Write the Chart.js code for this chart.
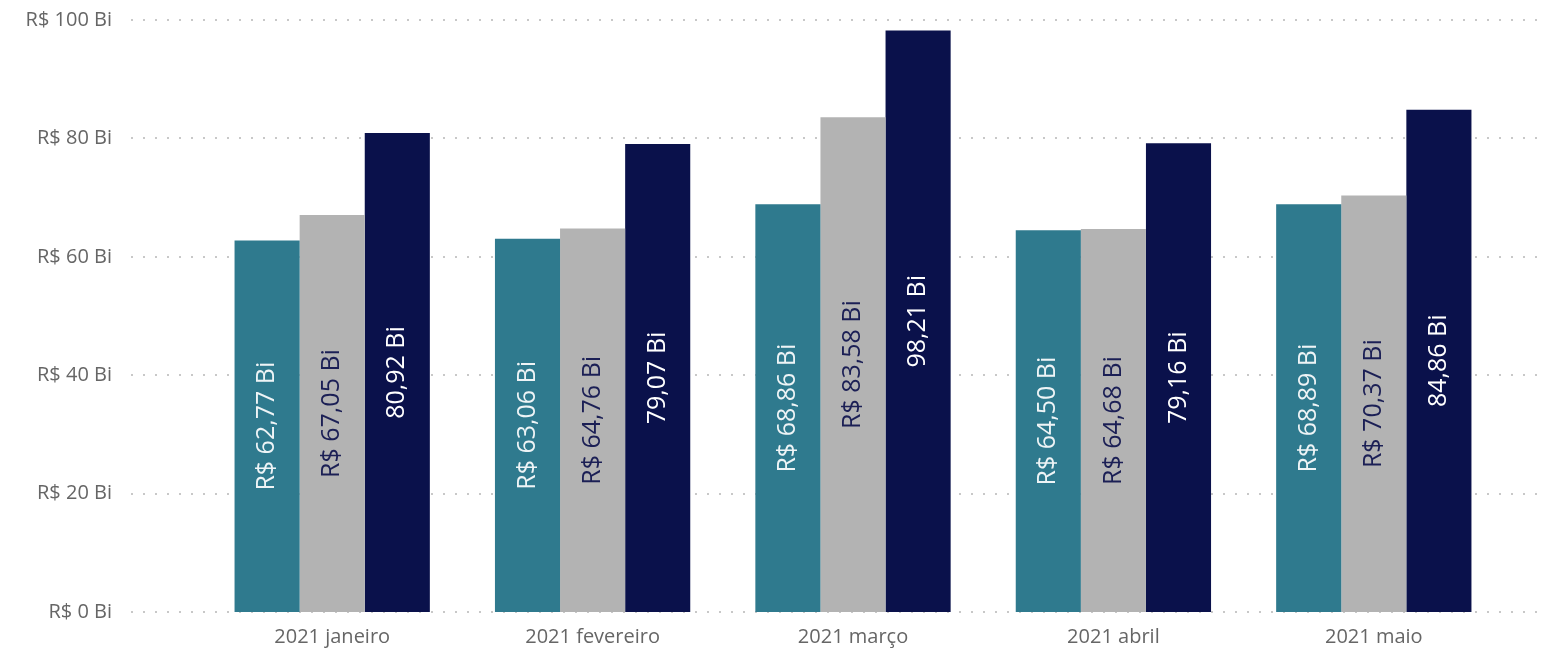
<!DOCTYPE html>
<html>
<head>
<meta charset="utf-8">
<script src="https://cdn.jsdelivr.net/npm/chart.js@4"></script>
<style>
  html, body { margin: 0; padding: 0; background: #fff; overflow: hidden; }
  #wrap { position: relative; width: 1546px; height: 649px; }
</style>
</head>
<body>
<div id="wrap"><canvas id="c"></canvas></div>
<script>
const months = ["2021 janeiro", "2021 fevereiro", "2021 março", "2021 abril", "2021 maio"];
const serieA = [62.77, 63.06, 68.86, 64.5, 68.89];
const serieB = [67.05, 64.76, 83.58, 64.68, 70.37];
const serieC = [80.92, 79.07, 98.21, 79.16, 84.86];
const yTicks = [0, 20, 40, 60, 80, 100];

const FONT = "'Open Sans', 'Noto Sans', sans-serif";

const fmt = (v) => v.toFixed(2).replace(".", ",");

// dotted gridlines that run wider than the category area
const dottedGrid = {
  id: "dottedGrid",
  beforeDatasetsDraw(chart) {
    const { ctx, scales: { y } } = chart;
    ctx.save();
    ctx.strokeStyle = "#c8c8c8";
    ctx.lineWidth = 2;
    ctx.setLineDash([2, 10]);
    yTicks.forEach((t) => {
      const py = Math.round(y.getPixelForValue(t));
      ctx.beginPath();
      ctx.moveTo(131, py);
      ctx.lineTo(1542, py);
      ctx.stroke();
    });
    ctx.restore();
  },
};

// rotated value labels centered in each bar
const barLabels = {
  id: "barLabels",
  afterDatasetsDraw(chart) {
    const { ctx } = chart;
    ctx.save();
    ctx.font = "25px " + FONT;
    ctx.textAlign = "center";
    ctx.textBaseline = "middle";
    chart.data.datasets.forEach((ds, i) => {
      chart.getDatasetMeta(i).data.forEach((bar, j) => {
        const cy = (bar.y + bar.base) / 2;
        ctx.save();
        ctx.translate(bar.x, cy);
        ctx.rotate(-Math.PI / 2);
        ctx.fillStyle = ds.labelColor;
        ctx.fillText(ds.prefix + fmt(ds.data[j]) + " Bi", 0, 0);
        ctx.restore();
      });
    });
    ctx.restore();
  },
};

new Chart(document.getElementById("c").getContext("2d"), {
  type: "bar",
  data: {
    labels: months,
    datasets: [
      { label: "A", data: serieA, backgroundColor: "#2f7a8e", labelColor: "#eef4f6", prefix: "R$ " },
      { label: "B", data: serieB, backgroundColor: "#b3b3b3", labelColor: "#1b1f55", prefix: "R$ " },
      { label: "C", data: serieC, backgroundColor: "#0a114b", labelColor: "#ffffff", prefix: "" },
    ],
  },
  options: {
    responsive: true,
    maintainAspectRatio: false,
    animation: false,
    devicePixelRatio: 1,
    layout: { padding: { left: 18, right: 42, top: 20, bottom: 0 } },
    datasets: { bar: { categoryPercentage: 0.75, barPercentage: 1 } },
    plugins: { legend: { display: false }, tooltip: { enabled: false } },
    scales: {
      x: {
        afterFit: (axis) => { axis.height = 37; },
        grid: { display: false, drawTicks: false },
        border: { display: false },
        ticks: { color: "#666666", font: { family: FONT, size: 20 }, padding: 13, maxRotation: 0 },
      },
      y: {
        min: 0,
        max: 100,
        afterBuildTicks: (axis) => { axis.ticks = yTicks.map((v) => ({ value: v })); },
        afterFit: (axis) => {
          axis.width = 184;
          axis.paddingTop = 0;
          axis.paddingBottom = 0;
        },
        grid: { display: false, drawTicks: false },
        border: { display: false },
        ticks: {
          color: "#666666",
          font: { family: FONT, size: 20 },
          padding: 90,
          callback: (v) => "R$ " + v + " Bi",
        },
      },
    },
  },
  plugins: [dottedGrid, barLabels],
});
</script>
</body>
</html>
